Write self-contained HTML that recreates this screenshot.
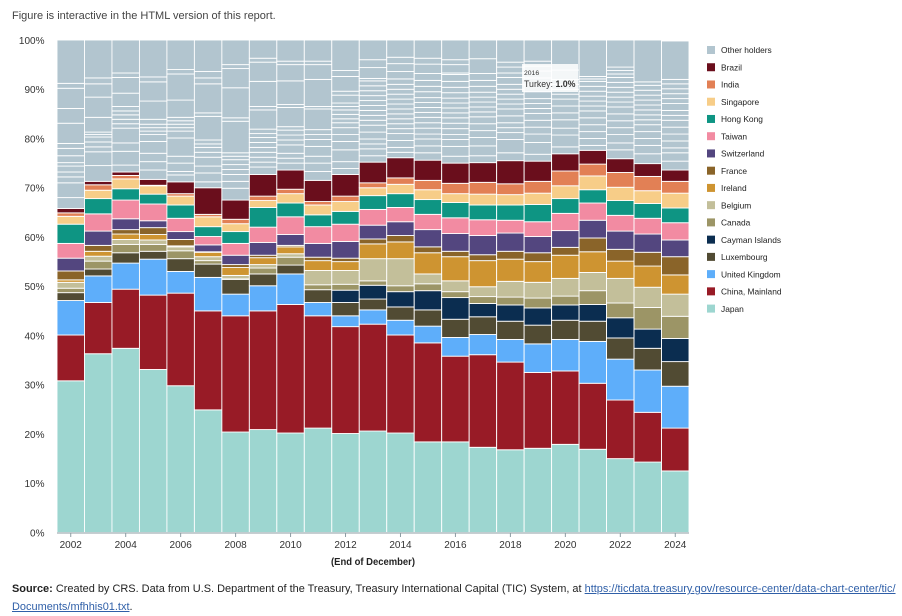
<!DOCTYPE html>
<html lang="en">
<head>
<meta charset="utf-8">
<title>Foreign holders of U.S. Treasury securities</title>
<style>
html,body{margin:0;padding:0;background:#fff;}
body{width:902px;height:616px;position:relative;overflow:hidden;font-family:"Liberation Sans",sans-serif;}
#note{position:absolute;left:12px;top:9px;font-size:11px;line-height:14px;color:#444;white-space:nowrap;}
#source{position:absolute;left:12px;top:580px;width:890px;font-size:10.96px;line-height:18px;color:#222;white-space:nowrap;}
#source a{color:#2f5fa8;text-decoration:underline;}
svg{position:absolute;left:0;top:0;filter:blur(0.2px);}
</style>
</head>
<body>
<div id="note">Figure is interactive in the HTML version of this report.</div>
<svg id="chart" width="902" height="616" viewBox="0 0 902 616"></svg>
<div id="source"><b>Source:</b> Created by CRS. Data from U.S. Department of the Treasury, Treasury International Capital (TIC) System, at <a href="#">https://ticdata.treasury.gov/resource-center/data-chart-center/tic/<br>Documents/mfhhis01.txt</a>.</div>
<script>
const years = [2002,2003,2004,2005,2006,2007,2008,2009,2010,2011,2012,2013,2014,2015,2016,2017,2018,2019,2020,2021,2022,2023,2024];
const yTickLabels = [0,10,20,30,40,50,60,70,80,90,100];
const xTickLabels = [2002,2004,2006,2008,2010,2012,2014,2016,2018,2020,2022,2024];

const japan = [30.8,36.3,37.4,33.1,29.8,24.9,20.4,20.9,20.2,21.2,20.1,20.6,20.2,18.4,18.4,17.3,16.8,17.1,17.9,16.9,15.0,14.3,12.5];
const china = [9.3,10.4,12.0,15.1,18.8,20.1,23.6,24.1,26.1,22.8,21.7,21.7,19.9,20.1,17.4,18.8,17.8,15.4,14.9,13.4,11.9,10.1,8.7];
const unitedKingdom = [7.0,5.4,5.3,7.3,4.4,6.8,4.4,5.1,6.2,2.7,2.2,2.9,3.0,3.4,3.8,4.1,4.6,5.8,6.4,8.5,8.3,8.6,8.5];
const luxembourg = [1.6,1.4,2.1,1.6,2.6,2.7,3.0,2.4,1.8,2.6,2.7,2.2,2.7,3.3,3.7,3.6,3.7,3.8,3.9,4.1,4.3,4.4,5.0];
const caymanIslands = [0,0,0,0,0,0,0,0,0,0,2.5,2.8,3.1,3.9,4.4,2.7,3.3,3.5,3.1,3.4,4.1,3.9,4.7];
const canada = [0.9,1.6,1.7,1.4,1.6,0.7,0.1,1.2,1.6,1.0,1.2,0.9,1.2,1.4,1.2,1.4,1.6,2.0,1.8,2.8,3.0,4.4,4.5];
const belgium = [1.2,1.0,1.0,0.9,0.8,0.8,0.7,0.7,0.7,2.9,2.8,4.5,5.5,2.0,2.2,2.0,3.2,3.2,3.6,3.7,5.0,4.1,4.5];
const ireland = [0.5,1.0,1.1,1.1,0.2,0.9,1.6,1.4,1.4,2.0,1.8,3.0,3.4,4.3,4.9,5.3,4.5,4.2,4.7,4.2,3.5,4.3,3.9];
const france = [1.8,1.2,0.9,1.4,1.3,0.1,0.6,0.5,0.3,0.7,0.7,1.0,1.3,1.2,1.1,1.2,1.6,1.8,1.6,2.8,2.4,2.8,3.7];
const switzerland = [2.6,2.9,2.2,1.4,1.6,1.4,1.9,2.6,2.2,2.8,3.4,2.8,2.8,3.5,3.6,3.9,3.7,3.3,3.4,3.6,3.7,3.7,3.4];
const taiwan = [3.0,3.5,3.8,3.4,2.7,1.7,2.4,3.1,3.6,3.4,3.5,3.2,2.9,3.1,3.2,3.2,2.6,3.0,3.5,3.5,3.2,3.2,3.5];
const hongKong = [3.9,3.1,2.3,2.0,2.7,2.0,2.4,4.0,2.8,2.4,2.6,2.8,2.8,3.0,3.1,3.0,3.1,3.5,3.0,2.7,3.0,3.0,3.0];
const singapore = [1.6,1.7,2.0,1.7,1.8,2.0,1.6,1.4,1.9,2.0,2.0,1.6,1.9,2.0,1.8,2.2,2.1,2.3,2.6,2.8,2.7,2.6,3.0];
const india = [0.7,1.1,0.7,0.1,0.5,0.5,0.9,0.9,0.9,0.7,1.1,1.0,1.3,1.9,2.1,2.4,2.2,2.4,3.0,2.4,3.0,2.9,2.4];
const brazil = [0.9,0.7,0.7,1.2,2.4,5.4,3.9,4.4,3.9,4.3,4.4,4.2,4.1,4.1,4.1,4.0,4.7,4.1,3.5,2.8,2.8,2.6,2.3];

/* Individual smaller holders inside "Other holders", bottom to top, one list per year.
   The remainder up to the year's total is the top block. */
const otherHolders2002 = [2.2,3.0,1.2,1.0,1.2,0.7,1.4,1.5,1.0,4.1,3.0,4.1,1.0];
const otherHolders2003 = [3.2,2.8,1.0,1.0,1.0,0.5,0.5,3.0,4.1,2.7,1.2];
const otherHolders2004 = [1.4,2.8,1.7,3.0,0.9,0.9,0.9,0.8,0.9,2.7,3.2,0.9];
const otherHolders2005 = [1.9,1.7,1.7,2.4,1.4,0.7,0.7,0.7,1.0,3.7,3.9,1.0];
const otherHolders2006 = [1.4,0.7,1.7,1.4,3.7,1.4,0.7,0.7,0.7,0.7,3.5,5.3,0.9];
const otherHolders2007 = [1.2,1.8,1.4,1.8,1.0,1.0,0.7,0.8,4.8,0.7,5.9,1.2,1.3];
const otherHolders2008 = [2.4,1.4,1.4,1.0,1.0,1.0,0.7,0.7,6.4,0.7,6.1,3.9,0.8];
const otherHolders2009 = [1.5,1.0,1.0,1.0,1.0,1.0,1.0,0.8,0.9,3.9,0.7,5.1,3.9,0.8];
const otherHolders2010 = [1.4,1.0,1.0,1.7,1.0,1.0,1.0,0.7,3.9,0.6,4.8,3.3,0.7];
const otherHolders2011 = [1.8,1.7,1.4,2.0,1.4,1.0,1.0,4.2,0.5,5.5,3.0,0.7];
const otherHolders2012 = [1.2,1.4,2.4,1.7,1.4,1.4,1.0,0.8,0.9,0.9,0.7,0.7,1.6,0.8,3.0,1.2];
const otherHolders2013 = [1.3,1.4,1.0,1.0,1.4,1.4,1.0,1.0,1.0,1.0,1.0,1.0,1.0,1.0,1.0,0.5,2.2,1.6];
const otherHolders2014 = [1.1,1.0,1.4,1.4,1.0,1.0,1.0,1.0,1.0,1.0,1.0,1.0,1.0,1.0,1.1,1.5,1.6,1.3];
const otherHolders2015 = [1.5,1.4,1.4,1.0,1.2,1.1,1.1,1.0,1.0,1.0,1.0,1.2,1.1,1.2,1.4,1.9,1.2];
const otherHolders2016 = [1.4,2.0,1.4,1.0,1.2,1.1,1.1,1.0,1.0,1.0,1.0,1.1,1.1,1.2,1.4,0.3,1.7,1.0];
const otherHolders2017 = [1.4,2.0,1.7,1.4,1.4,1.4,1.0,1.0,1.0,1.0,1.0,1.2,1.2,1.4,3.0];
const otherHolders2018 = [1.6,2.7,1.4,1.0,1.0,1.4,1.4,1.0,1.0,1.0,1.0,1.0,1.4,0.9,1.2,1.0];
const otherHolders2019 = [1.4,2.4,1.7,1.4,1.4,1.4,1.0,1.0,1.0,1.4,1.4,1.4,1.4,1.0,1.0];
const otherHolders2020 = [1.4,2.4,1.4,1.7,1.4,1.4,1.4,1.0,1.0,1.0,1.0,1.9];
const otherHolders2021 = [1.0,1.4,1.4,1.4,1.4,1.4,1.0,1.0,1.0,1.0,1.0,1.0,0.5,0.5];
const otherHolders2022 = [1.8,1.4,1.7,1.4,1.4,1.4,1.4,1.0,1.0,1.0,1.0,1.0,1.0,0.7,0.7,0.7];
const otherHolders2023 = [2.0,1.7,1.4,1.4,1.4,1.0,1.0,1.0,1.0,1.0,1.0,1.0,1.0,0.7];
const otherHolders2024 = [1.8,1.7,1.0,1.4,1.4,1.4,1.4,1.0,1.0,1.4,1.0,1.0,1.0,1.0,0.9];
const otherHoldersByYear = [otherHolders2002,otherHolders2003,otherHolders2004,otherHolders2005,otherHolders2006,otherHolders2007,otherHolders2008,otherHolders2009,otherHolders2010,otherHolders2011,otherHolders2012,otherHolders2013,otherHolders2014,otherHolders2015,otherHolders2016,otherHolders2017,otherHolders2018,otherHolders2019,otherHolders2020,otherHolders2021,otherHolders2022,otherHolders2023,otherHolders2024];
const yearTotals = [100,100,100,100,100,100,100,100,100,100,100,100,100,100,100,100,100,100,100,100,100,100,99.8];

const tooltipYear = "2016";
const tooltipHolder = "Turkey";
const tooltipValue = "1.0%";

const stackOrder = [
  ["Japan", japan, "#9dd6d0"],
  ["China, Mainland", china, "#981b26"],
  ["United Kingdom", unitedKingdom, "#5eaefa"],
  ["Luxembourg", luxembourg, "#514b33"],
  ["Cayman Islands", caymanIslands, "#0b2d50"],
  ["Canada", canada, "#9c9566"],
  ["Belgium", belgium, "#c3bf9a"],
  ["Ireland", ireland, "#ce9431"],
  ["France", france, "#8a6429"],
  ["Switzerland", switzerland, "#53467f"],
  ["Taiwan", taiwan, "#f28ba2"],
  ["Hong Kong", hongKong, "#0e9583"],
  ["Singapore", singapore, "#f7cd88"],
  ["India", india, "#e28055"],
  ["Brazil", brazil, "#6a0e1c"]
];
const otherColor = "#b2c5cf";

const NS = "http://www.w3.org/2000/svg";
const svg = document.getElementById("chart");
const plotLeft = 57, plotRight = 689, plotBottom = 532.5, plotTop = 40;
const yScale = v => plotBottom - (v / 100) * (plotBottom - plotTop);
const bandWidth = (plotRight - plotLeft) / years.length;
const xScale = i => plotLeft + i * bandWidth;

function make(tag, attrs, parent) {
  const el = document.createElementNS(NS, tag);
  for (const k in attrs) el.setAttribute(k, attrs[k]);
  (parent || svg).appendChild(el);
  return el;
}
function slug(s) { return s.toLowerCase().replace(/[^a-z0-9]+/g, "-"); }

function drawSegment(i, low, high, color, name) {
  const r = make("rect", {
    x: xScale(i), y: yScale(high), width: bandWidth,
    height: Math.max(0, yScale(low) - yScale(high)),
    fill: color, stroke: "#ffffff", "stroke-width": 0.9
  });
  
  
}

years.forEach((year, i) => {
  let base = 0;
  stackOrder.forEach(s => {
    const v = s[1][i];
    if (v > 0) drawSegment(i, base, base + v, s[2], "bar-" + slug(s[0]) + "-" + year);
    base += v;
  });
  otherHoldersByYear[i].forEach(v => {
    drawSegment(i, base, base + v, otherColor, "bar-other-holder-" + year);
    base += v;
  });
  drawSegment(i, base, yearTotals[i], otherColor, "bar-other-holders-top-" + year);
});

/* y axis labels */
yTickLabels.forEach(t => {
  const label = make("text", {
    x: 44.5, y: yScale(t) + 3.8, "text-anchor": "end",
    "font-size": 10, fill: "#333", "font-family": '"Liberation Sans",sans-serif'
  });
  
  
  label.textContent = t + "%";
});

/* x axis */
const xAxis = make("line", {x1: plotLeft, x2: plotRight, y1: 533, y2: 533, stroke: "#8c9ca3", "stroke-width": 1});


xTickLabels.forEach(t => {
  const cx = xScale(years.indexOf(t)) + bandWidth / 2;
  const tick = make("line", {x1: cx, x2: cx, y1: 533, y2: 537, stroke: "#8c9ca3", "stroke-width": 1});
  
  
  const label = make("text", {
    x: cx, y: 548, "text-anchor": "middle",
    "font-size": 10, fill: "#333", "font-family": '"Liberation Sans",sans-serif'
  });
  
  
  label.textContent = t;
});
const xTitle = make("text", {
  x: 373, y: 565, "text-anchor": "middle", "font-size": 10.5, "font-weight": "bold",
  fill: "#222", "font-family": '"Liberation Sans",sans-serif', textLength: 84, lengthAdjust: "spacingAndGlyphs"
});


xTitle.textContent = "(End of December)";

/* legend */
const legendEntries = ["Other holders"].concat(stackOrder.map(s => s[0]).reverse());
const legendColors = [otherColor].concat(stackOrder.map(s => s[2]).reverse());
legendEntries.forEach((name, i) => {
  const cy = 50 + i * 17.24;
  const g = make("g", {});
  
  
  const sw = make("rect", {x: 707, y: cy - 4, width: 8, height: 8, fill: legendColors[i]}, g);
  
  
  const tx = make("text", {
    x: 721, y: cy + 3.2, "font-size": 8.4, fill: "#222",
    "font-family": '"Liberation Sans",sans-serif'
  }, g);
  
  
  tx.textContent = name;
});

/* tooltip */
const tip = make("g", {});


const tipBox = make("rect", {x: 522, y: 64, width: 56, height: 28, fill: "#fff", "fill-opacity": 0.85}, tip);


const tipYear = make("text", {x: 524, y: 75, "font-size": 6.8, fill: "#333", "font-family": '"Liberation Sans",sans-serif'}, tip);


tipYear.textContent = tooltipYear;
const tipText = make("text", {x: 524, y: 87, "font-size": 8.8, fill: "#333", "font-family": '"Liberation Sans",sans-serif'}, tip);


tipText.textContent = tooltipHolder + ": ";
const tipBold = make("tspan", {"font-weight": "bold"}, tipText);
tipBold.textContent = tooltipValue;
</script>
</body>
</html>
